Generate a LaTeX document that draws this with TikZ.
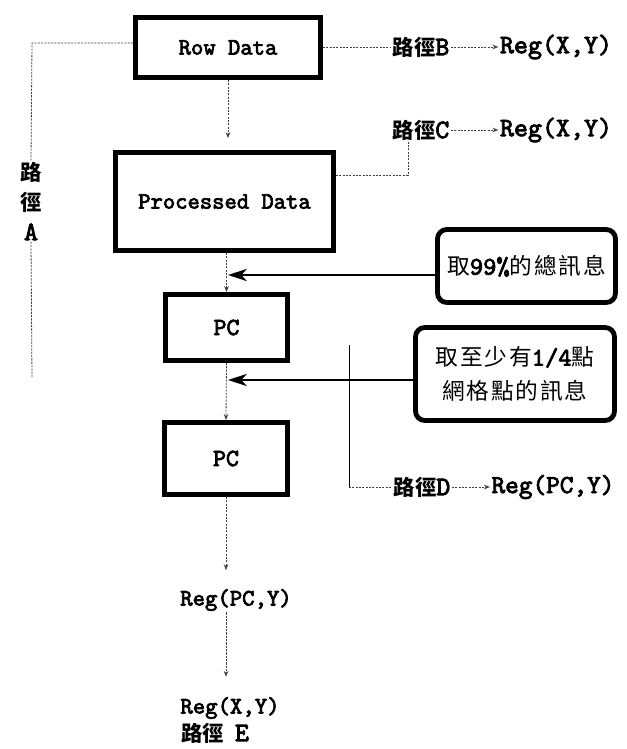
\documentclass[tikz,border=0pt]{standalone}
\usepackage{fontspec}
\setmainfont{lmmono10-regular.otf}[FakeBold=3]
\newfontfamily\cjk{Noto Sans CJK TC}
\newfontfamily\cjkbox{Noto Sans CJK TC}[LetterSpace=8]
\usetikzlibrary{arrows.meta,calc}
\newcommand\cj[1]{{\cjk\bfseries #1}}
\newcommand\cjb[1]{{\cjkbox #1}}
\newcommand\latbig[1]{{\fontsize{20}{22}\selectfont #1}}
\newcommand\digs[1]{{\fontsize{19}{22}\selectfont #1}}
\def\pxu{0.75pt}
\begin{document}
\begin{tikzpicture}[x=0.75pt,y=-0.75pt,
  box/.style={draw, line width=3.6pt, inner sep=0pt},
  rbox/.style={draw, line width=3.6pt, rounded corners=7pt, inner sep=0pt, align=center},
  dot/.style={draw=black!75, line width=0.6pt, dash pattern=on 1.6pt off 0.9pt},
  tip/.style={-{Stealth[length=4.5pt,width=3.5pt,open]}},
  big/.style={line width=2.2pt, -{Stealth[length=14pt,width=9pt,inset=4pt]}},
  lab/.style={inner sep=1pt}]
\useasboundingbox (0,0) rectangle (626,749);

% boxes
\node[box, minimum width=185*\pxu, minimum height=60*\pxu, font=\fontsize{17.6}{20}\selectfont] (row) at (228,47.5) {Row Data};
\node[box, minimum width=218*\pxu, minimum height=98*\pxu, font=\fontsize{17.6}{20}\selectfont] (proc) at (224.5,201.5) {Processed Data};
\node[box, minimum width=122*\pxu, minimum height=66*\pxu, font=\fontsize{18.5}{20}\selectfont] (pc1) at (226.5,327.5) {PC};
\node[box, minimum width=123*\pxu, minimum height=72*\pxu, font=\fontsize{18.5}{20}\selectfont] (pc2) at (226,458.5) {PC};
\node[rbox, minimum width=178*\pxu, minimum height=73*\pxu, font=\fontsize{17}{20}\selectfont] (info1) at (526.5,266) {\cjb{取}\digs{99\%}\cjb{的總訊息}};
\node[rbox, minimum width=199*\pxu, minimum height=93*\pxu, font=\fontsize{17}{25.5}\selectfont] (info2) at (515,374) {\cjb{取至少有}\digs{1/4}\cjb{點}\\\cjb{網格點的訊息}};

% labels
\node[lab, align=center, font=\fontsize{16}{22.5}\selectfont] (pathA) at (31,201) {\cj{路}\\\cj{徑}\\\latbig{A}};
\node[lab, font=\fontsize{16}{18}\selectfont] (pathB) at (421,47) {\cj{路徑}\latbig{B}};
\node[lab, font=\fontsize{20}{22}\selectfont] (regB) at (556,47) {Reg(X,Y)};
\node[lab, font=\fontsize{16}{18}\selectfont] (pathC) at (421,130) {\cj{路徑}\latbig{C}};
\node[lab, font=\fontsize{20}{22}\selectfont] (regC) at (556,130) {Reg(X,Y)};
\node[lab, font=\fontsize{16}{18}\selectfont] (pathD) at (422,487) {\cj{路徑}\latbig{D}};
\node[lab, font=\fontsize{19.5}{22}\selectfont] (regD) at (553,487) {Reg(PC,Y)};
\node[lab, font=\fontsize{17.7}{20}\selectfont] (regE1) at (236,600) {Reg(PC,Y)};
\node[lab, font=\fontsize{17.7}{20}\selectfont] (regE2) at (230,708) {Reg(X,Y)};
\node[lab, font=\fontsize{16}{18}\selectfont] (pathE) at (215,733) {\cj{路徑} \latbig{E}};

% coordinates
\coordinate (aTop) at (32,43);
\coordinate (aEnd) at (32,378);
\coordinate (cCorner) at (408,175);
\coordinate (dTop) at (349,345);
\coordinate (j1) at (228,275);
\coordinate (j2) at (228,380);

% path A
\draw[dot] (row.west |- aTop) -- (aTop) -- (pathA.north);
\draw[dot] (pathA.south) -- (aEnd);
% path B
\draw[dot] (row.east |- pathB.west) -- (pathB.west);
\draw[dot, tip] (pathB.east) -- (regB.west);
% path C
\draw[dot] (proc.east |- cCorner) -- (cCorner) -- (cCorner |- pathC.south);
\draw[dot, tip] (pathC.east) -- (regC.west);
% path D
\draw[line width=0.5pt] (dTop) -- (dTop |- pathD.west) coordinate (dCorner);
\draw[dot] (dCorner) -- (pathD.west);
\draw[dot, tip] (pathD.east) -- (regD.west);
% main chain
\draw[dot, tip, shorten >=9pt] (row.south) -- (row.south |- proc.north);
\draw[dot, tip] (pc1.north |- proc.south) -- (pc1.north);
\draw[dot, tip] (pc1.south) -- (pc2.north);
\draw[dot, tip, shorten >=13pt] (pc2.south) -- (pc2.south |- regE1.north);
\draw[dot, tip, shorten >=14pt] (pc2.south |- regE1.south) -- (pc2.south |- regE2.north);
% info arrows
\draw[big] (info1.west |- j1) -- (j1);
\draw[big] (info2.west |- j2) -- (j2);
\end{tikzpicture}
\end{document}
